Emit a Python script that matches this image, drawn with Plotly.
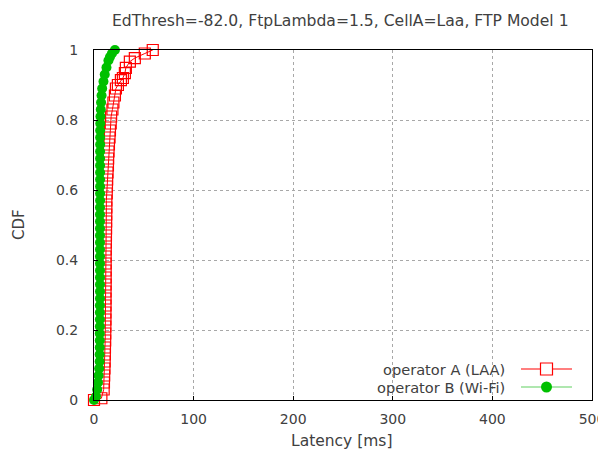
import plotly.graph_objects as go

# operator A (LAA): latency [ms] and CDF
lat_a = [0, 7.4, 9.7, 10.0, 10.2, 10.5, 10.7, 10.9, 11.0, 11.2, 11.3, 11.4, 11.5, 11.5, 11.6,
         11.6, 11.6, 11.7, 11.7, 11.7, 11.7, 11.7, 11.8, 11.9, 12.0, 12.1, 12.2, 12.3, 12.4,
         12.4, 12.8, 13.0, 13.2, 13.6, 14.0, 14.2, 14.6, 15.0, 15.6, 16.0, 16.8, 17.2, 18.5,
         19.5, 21.0, 22.0, 24.0, 27.0, 29.0, 31.0, 32.0, 36.0, 41.0, 51.0, 59.0]
cdf_a = [0, 0.005, 0.03, 0.05, 0.07, 0.09, 0.11, 0.13, 0.15, 0.17, 0.19, 0.21, 0.23, 0.25, 0.27,
         0.29, 0.31, 0.33, 0.35, 0.37, 0.39, 0.41, 0.43, 0.45, 0.47, 0.49, 0.51, 0.53, 0.55,
         0.57, 0.59, 0.61, 0.63, 0.65, 0.67, 0.69, 0.71, 0.73, 0.75, 0.77, 0.79, 0.81, 0.83,
         0.85, 0.87, 0.89, 0.90, 0.914, 0.92, 0.934, 0.949, 0.967, 0.977, 0.99, 1.0]

# operator B (Wi-Fi)
lat_b = [0, 2.0, 3.2, 4.0, 4.6, 5.2,
         5.7, 5.7, 5.8, 5.8, 5.8, 5.9, 5.9, 5.9, 5.9, 6.0,
         6.0, 6.0, 6.0, 6.0, 6.0, 6.0, 6.0, 6.0, 6.0, 6.0,
         6.0, 6.0, 6.0, 6.1, 6.1, 6.1, 6.1, 6.1, 6.1, 6.1,
         6.1, 6.2, 6.2, 6.2, 6.3, 6.5, 6.8, 7.1, 7.6, 8.2,
         9.5, 10.8, 12.5, 14.5, 16.0, 18.0, 21.0]
cdf_b = [0, 0.01, 0.03, 0.05, 0.07, 0.09,
         0.11, 0.13, 0.15, 0.17, 0.19, 0.21, 0.23, 0.25, 0.27, 0.29,
         0.31, 0.33, 0.35, 0.37, 0.39, 0.41, 0.43, 0.45, 0.47, 0.49,
         0.51, 0.53, 0.55, 0.57, 0.59, 0.61, 0.63, 0.65, 0.67, 0.69,
         0.71, 0.73, 0.75, 0.77, 0.79, 0.81, 0.83, 0.85, 0.87, 0.89,
         0.91, 0.93, 0.95, 0.97, 0.98, 0.99, 1.0]

names = ["operator A (LAA)", "operator B (Wi-Fi)"]
x_ticks = [0, 100, 200, 300, 400, 500]
y_ticks = [0, 0.2, 0.4, 0.6, 0.8, 1]
title_text = "EdThresh=-82.0, FtpLambda=1.5, CellA=Laa, FTP Model 1"

RED = "#ff0000"
GREEN = "#00c000"
FONT = "DejaVu Sans"
TXT = "#404040"

fig = go.Figure()
fig.add_trace(go.Scatter(x=lat_a, y=cdf_a, mode="lines+markers", name=names[0],
                         line=dict(color=RED, width=1),
                         marker=dict(symbol="square-open", size=11, color=RED, line=dict(width=1.2, color=RED)),
                         cliponaxis=False, showlegend=False))
fig.add_trace(go.Scatter(x=lat_b, y=cdf_b, mode="lines+markers", name=names[1],
                         line=dict(color=GREEN, width=1),
                         marker=dict(symbol="circle", size=10, color=GREEN),
                         cliponaxis=False, showlegend=False))

axis_common = dict(showline=True, linecolor="black", linewidth=1, mirror=True,
                   showgrid=True, gridcolor="#a8a8a8", griddash="dot", gridwidth=1,
                   zeroline=False, ticks="inside", ticklen=4, tickcolor="black",
                   automargin=False,
                   tickfont=dict(family=FONT, size=14, color=TXT))

# the page body adds an 8px offset, so the figure is 8px smaller than the window
fig.update_layout(
    width=598, height=445,
    margin=dict(l=86, r=14, t=42, b=53),
    paper_bgcolor="white", plot_bgcolor="white",
    xaxis=dict(range=[0, 500], tickvals=x_ticks, ticktext=[str(v) for v in x_ticks],
               ticklabelstandoff=6, **axis_common),
    yaxis=dict(range=[0, 1], tickvals=y_ticks, ticktext=["0", "0.2", "0.4", "0.6", "0.8", "1"],
               ticklabelstandoff=12, **axis_common),
    showlegend=False,
)

ann = []
ann.append(dict(text=title_text, xref="paper", yref="paper", x=(340 - 94) / 498.0, y=1, yshift=29,
                showarrow=False, xanchor="center", yanchor="middle",
                font=dict(family=FONT, size=15.6, color=TXT)))
ann.append(dict(text="Latency [ms]", xref="paper", yref="paper", x=(341 - 94) / 498.0, y=0, yshift=-41,
                showarrow=False, xanchor="center", yanchor="middle",
                font=dict(family=FONT, size=15.5, color=TXT)))
ann.append(dict(text="CDF", xref="paper", yref="paper", x=0, y=0.5, xshift=-75,
                showarrow=False, xanchor="center", yanchor="middle", textangle=-90,
                font=dict(family=FONT, size=15, color=TXT)))

# manual gnuplot-style legend (text, then key sample); positions in window pixels
def px(xp):
    return (xp - 94) / 498.0

def py(yp):
    return (400 - yp) / 350.0

shapes = []
for i, (nm, col) in enumerate(zip(names, [RED, GREEN])):
    yy = py(369 + 18 * i)
    ann.append(dict(text=nm, xref="paper", yref="paper", x=px(507), y=yy,
                    showarrow=False, xanchor="right", yanchor="middle",
                    font=dict(family=FONT, size=14.6, color=TXT)))
    shapes.append(dict(type="line", xref="paper", yref="paper", x0=px(521), x1=px(572),
                       y0=yy, y1=yy, line=dict(color=col if i == 0 else "#60d060", width=1.2)))
    if i == 0:
        shapes.append(dict(type="rect", xref="paper", yref="paper",
                           xsizemode="pixel", ysizemode="pixel", xanchor=px(546.5), yanchor=yy,
                           x0=-6, x1=6, y0=-6, y1=6, line=dict(color=RED, width=1.2),
                           fillcolor="white"))
    else:
        shapes.append(dict(type="circle", xref="paper", yref="paper",
                           xsizemode="pixel", ysizemode="pixel", xanchor=px(546.5), yanchor=yy,
                           x0=-5.5, x1=5.5, y0=-5.5, y1=5.5, line=dict(color=GREEN, width=0),
                           fillcolor=GREEN))

fig.update_layout(annotations=ann, shapes=shapes)
fig.write_html("out.html")
